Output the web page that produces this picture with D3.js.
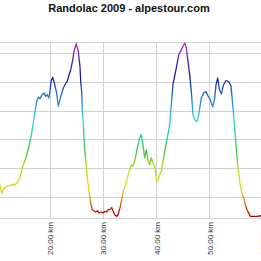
<!DOCTYPE html>
<html>
<head>
<meta charset="utf-8">
<script src="https://cdn.jsdelivr.net/npm/d3@7"></script>
<style>
  html, body { margin: 0; padding: 0; background: #fff; }
  svg { display: block; }
</style>
</head>
<body>
<div id="chart"></div>
<script>
// profile: distance (km) and altitude (m)
const distKm = [10.21, 10.58, 10.90, 11.21, 11.85, 12.79, 13.41, 14.03, 14.48, 14.86, 15.48, 16.10, 16.55, 16.99,
  17.50, 17.80, 18.12, 18.44, 18.87, 19.19, 19.49, 19.76, 20.00, 20.19, 20.51, 20.81, 21.26, 21.56, 21.88,
  22.50, 23.01, 23.26, 23.58, 23.90, 24.27, 24.52, 24.93, 25.33, 25.65, 25.78, 25.97, 26.08, 26.27, 26.40,
  26.59, 26.78, 27.02, 27.34, 27.66, 27.97, 28.61, 28.91, 29.23, 29.66, 30.04, 30.30, 30.68, 30.98, 31.30,
  31.62, 31.86, 32.18, 32.56, 32.81, 33.18, 33.43, 33.80, 34.26, 34.56, 35.01, 35.31, 35.63, 35.95, 36.44,
  36.89, 37.19, 37.51, 37.83, 38.14, 38.46, 38.78, 39.08, 39.40, 39.72, 40.02, 40.21, 40.66, 40.96, 41.28,
  41.60, 42.09, 42.54, 42.84, 43.16, 43.79, 44.24, 44.73, 45.05, 45.37, 45.67, 45.99, 46.31, 46.61, 46.93,
  47.31, 47.68, 48.00, 48.49, 48.95, 49.38, 49.76, 50.19, 50.64, 51.02, 51.26, 51.58, 51.88, 52.26, 52.67,
  53.15, 53.65, 54.09, 54.41, 54.78, 55.08, 55.40, 55.84, 56.16, 56.48, 56.78, 57.10, 57.42, 57.72, 58.36,
  58.98, 59.74, 60.30];
const altitudeM = [704, 683, 628, 651, 676, 685, 685, 709, 755, 813, 871, 963, 1044, 1149,
  1265, 1292, 1283, 1306, 1322, 1299, 1310, 1287, 1334, 1403, 1431, 1392, 1322, 1230, 1276,
  1357, 1392, 1403, 1447, 1482, 1551, 1610, 1666, 1610, 1505, 1405, 1329, 1197, 1114, 1010,
  906, 836, 732, 640, 558, 512, 496, 505, 489, 496, 489, 501, 496, 512, 512,
  528, 505, 477, 466, 477, 524, 570, 640, 685, 732, 790, 824, 813, 848, 940,
  1010, 1033, 963, 871, 928, 848, 824, 871, 836, 813, 732, 709, 755, 778, 848,
  917, 1010, 1102, 1241, 1380, 1496, 1588, 1623, 1646, 1669, 1635, 1542, 1449, 1334, 1169,
  1135, 1124, 1169, 1287, 1322, 1333, 1301, 1274, 1225, 1287, 1380, 1426, 1350, 1315, 1378,
  1409, 1402, 1369, 1241, 1079, 940, 801, 685, 628, 593, 547, 512, 489, 466, 466,
  466, 470, 468];

const xTicks = [20, 30, 40, 50, 60];
const yTicks = [600, 800, 1000, 1200, 1400, 1600];
const titleText = 'Randolac 2009 - alpestour.com';

// altitude colour ramp (red low -> purple high)
const rampAlt = [460, 510, 560, 640, 720, 820, 920, 1030, 1140, 1260, 1350, 1430, 1530, 1660];
const rampColor = ['#a00000', '#c02000', '#e07010', '#e0d020', '#d8e020', '#a0d820', '#40c040',
  '#20d0a0', '#30d0e0', '#2888d8', '#1850c0', '#101c98', '#4818a8', '#b030c8'];

const width = 261, height = 261;
const plotTop = 42, plotBottom = 218;

let svg = d3.select('#chart').append('svg')
  .attr('width', width)
  .attr('height', height);

// chart is cropped on the left, so 0 km lies outside the window
let x = d3.scaleLinear().domain([20, 50]).range([50, 209.3]);
let y = d3.scaleLinear().domain([600, 1600]).range([197, 53]);

let data = distKm.map((d, i) => ({ km: d, alt: altitudeM[i] }));

// grid
let grid = svg.append('g').attr('class', 'grid')
  .attr('stroke', '#d2d2d2')
  .attr('stroke-width', 1)
  .attr('shape-rendering', 'crispEdges');
grid.selectAll('line.h').data(yTicks).enter().append('line')
  .attr('class', 'h')
  .attr('x1', 0).attr('x2', width)
  .attr('y1', d => Math.round(y(d)) + 0.5)
  .attr('y2', d => Math.round(y(d)) + 0.5);
grid.selectAll('line.v').data(xTicks).enter().append('line')
  .attr('class', 'v')
  .attr('x1', d => Math.round(x(d)) + 0.5)
  .attr('x2', d => Math.round(x(d)) + 0.5)
  .attr('y1', plotTop).attr('y2', plotBottom);
grid.append('line')
  .attr('x1', 0).attr('x2', width)
  .attr('y1', plotTop + 0.5).attr('y2', plotTop + 0.5);
grid.append('line')
  .attr('x1', 0).attr('x2', width)
  .attr('y1', plotBottom + 0.5).attr('y2', plotBottom + 0.5);

// bottom axis labels, rotated
let xAxis = svg.append('g')
  .attr('transform', `translate(0,${plotBottom + 4})`)
  .call(d3.axisBottom(x).tickValues(xTicks).tickSize(0).tickFormat(d => d3.format('.2f')(d) + ' km'));
xAxis.select('.domain').remove();
xAxis.selectAll('text')
  .attr('transform', 'rotate(-90)')
  .attr('x', 0).attr('y', 0).attr('dy', '0.35em')
  .style('text-anchor', 'end')
  .attr('fill', '#333')
  .attr('font-size', '8px')
  .attr('font-family', 'Liberation Sans, Arial, sans-serif');

// gradient by altitude
let defs = svg.append('defs');
let grad = defs.append('linearGradient')
  .attr('id', 'alt-grad')
  .attr('gradientUnits', 'userSpaceOnUse')
  .attr('x1', 0).attr('x2', 0)
  .attr('y1', y(rampAlt[0]))
  .attr('y2', y(rampAlt[rampAlt.length - 1]));
grad.selectAll('stop').data(rampAlt).enter().append('stop')
  .attr('offset', d => (d - rampAlt[0]) / (rampAlt[rampAlt.length - 1] - rampAlt[0]))
  .attr('stop-color', (d, i) => rampColor[i]);

let line = d3.line()
  .x(d => x(d.km))
  .y(d => y(d.alt));

svg.append('path')
  .datum(data)
  .attr('d', line)
  .attr('fill', 'none')
  .attr('stroke', 'url(#alt-grad)')
  .attr('stroke-width', 1.3)
  .attr('stroke-linejoin', 'round');

// title
svg.append('text')
  .attr('x', 129)
  .attr('y', 12)
  .attr('text-anchor', 'middle')
  .attr('font-family', 'Liberation Sans, Arial, sans-serif')
  .attr('font-weight', 'bold')
  .attr('font-size', '11px')
  .attr('fill', '#111')
  .text(titleText);
</script>
</body>
</html>
